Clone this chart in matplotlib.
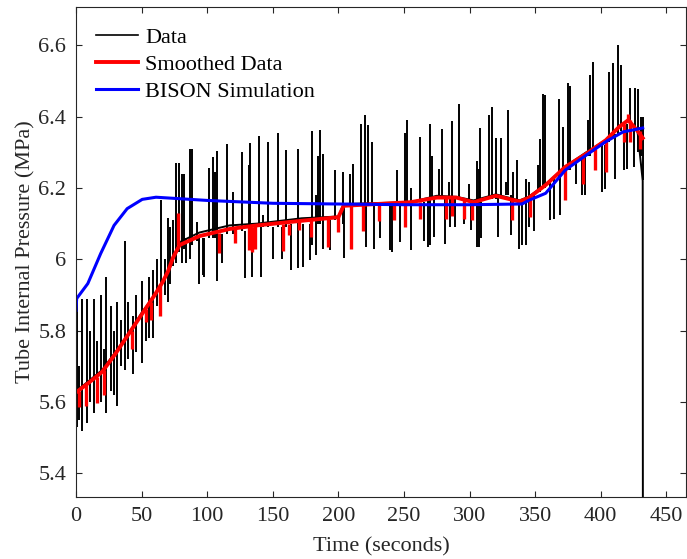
import numpy as np
import matplotlib
matplotlib.use("Agg")
import matplotlib.pyplot as plt

plt.rcParams['font.family'] = ['Liberation Serif', 'DejaVu Serif']

# measured pressure: band level through the noise
data_t = [0, 10, 20, 30, 40, 50, 60, 70, 75, 80, 94, 117, 138, 172, 200, 204, 255, 275,
          290, 303, 320, 338, 345, 358, 373, 389, 404, 414, 421, 428, 432, 432.3]
data_v = [5.63, 5.66, 5.69, 5.74, 5.79, 5.85, 5.90, 5.96, 6.01, 6.05, 6.075, 6.095, 6.10,
          6.115, 6.12, 6.155, 6.16, 6.178, 6.175, 6.165, 6.182, 6.165, 6.175, 6.21, 6.26,
          6.30, 6.335, 6.37, 6.39, 6.36, 6.22, 4.0]

# measured pressure: single-sample spikes (time, low, high)
spike_t = [0.5, 2.5, 4.8, 8.5, 11, 13.5, 16, 18.8, 21, 23, 26.8, 29, 31, 34, 37, 40, 43.6,
           46, 50, 53, 56, 59, 62, 65, 68, 70, 72, 74, 76,
           78.4, 80.9, 82.3, 84, 86.8, 88.6, 92, 93.6, 96.6, 97.8, 101.4, 104.4, 106, 107.8,
           111, 115.4, 120, 126.8, 128.9, 131.8, 133, 134.4, 139.5, 140.7, 142.8, 146.6,
           150, 154.2, 157.3, 159.8, 163.6, 169.4, 173.2, 178.3, 180.1, 182.6, 184.7, 185.9,
           188.4, 194, 197.6, 203.5, 204.5, 208.5, 209.8, 210.8, 217.6, 220, 221, 222.8,
           225.9, 227.4, 232, 239.6, 241, 244.7, 247.3, 250.6, 252.4, 255.7, 262.5, 265,
           268.3, 270.2, 271.7, 272.7, 276.8, 279.3, 281.1, 284.1, 285.4, 286.9, 288.7, 292,
           296, 299.6, 300.9, 305.3, 307.2, 308, 308.5, 314.8, 316.8, 320.4, 321.9, 323.7,
           327.5, 329.5, 331.3, 333.1, 336.4, 337.6, 339.7, 342.7, 345.7, 348.9, 351.9,
           353.7, 356.2, 357.5, 361, 364.6, 367.9, 369.2, 371, 374.8, 376.6, 381.2, 386,
           388.3, 390, 391.6, 393.9, 401, 403.6, 406.6, 409.1, 410.9, 412.9, 415.5, 418,
           420, 422.6, 425.6, 426.5, 428.2, 430.7, 432]
spike_lo = [5.53, 5.55, 5.52, 5.54, 5.60, 5.57, 5.62, 5.60, 5.63, 5.57, 5.63, 5.62, 5.59,
            5.70, 5.69, 5.72, 5.68, 5.74, 5.71, 5.77, 5.78, 5.78, 5.87, 5.87, 5.90, 5.88,
            5.93, 5.98, 5.99,
            6.02, 5.99, 6.03, 5.99, 6.00, 6.04, 6.05, 5.93, 5.955, 5.95, 6.06, 6.06, 6.06,
            5.94, 5.99, 6.07, 6.07, 6.08, 5.947, 6.08, 6.08, 5.95, 6.09, 5.95, 6.09, 6.09,
            6.00, 6.09, 6.00, 6.09, 5.969, 5.975, 5.978, 5.997, 6.04, 6.011, 6.10, 6.10,
            6.03, 6.025, 6.11, 6.10, 6.005, 6.15, 6.03, 6.15, 6.15, 6.15, 6.035, 6.15,
            6.15, 6.03, 6.06, 6.025, 6.02, 6.15, 6.049, 6.15, 6.15, 6.025, 6.16, 6.05,
            6.035, 6.04, 6.17, 6.063, 6.17, 6.17, 6.042, 6.17, 6.09, 6.17, 6.09, 6.17,
            6.10, 6.16, 6.081, 6.035, 6.035, 6.16, 6.06, 6.17, 6.17, 6.17, 6.063, 6.18,
            6.18, 6.18, 6.067, 6.17, 6.17, 6.03, 6.04, 6.04, 6.09, 6.08, 6.19,
            6.19, 6.20, 6.20, 6.109, 6.114, 6.23, 6.123, 6.24, 6.25, 6.25, 6.212, 6.18,
            6.18, 6.29, 6.29, 6.30, 6.19, 6.198, 6.33, 6.34, 6.226, 6.35, 6.36, 6.25,
            6.254, 6.38, 6.26, 6.37, 6.30, 6.29, 6.222]
spike_hi = [5.89, 5.70, 5.89, 5.89, 5.80, 5.89, 5.77, 5.90, 5.75, 5.95, 5.87, 5.80, 5.88,
            5.83, 6.05, 5.88, 5.84, 5.90, 5.94, 5.86, 5.95, 5.97, 6.00, 6.165, 6.00, 6.115,
            6.09, 6.11, 6.27,
            6.27, 6.24, 6.24, 6.06, 6.31, 6.31, 6.105, 6.06, 6.06, 6.06, 6.255, 6.287, 6.245,
            6.304, 6.07, 6.322, 6.189, 6.30, 6.08, 6.264, 6.326, 6.08, 6.345, 6.09, 6.123,
            6.328, 6.09, 6.354, 6.09, 6.306, 6.10, 6.31, 6.10, 6.10, 6.359, 6.18, 6.289,
            6.362, 6.294, 6.11, 6.25, 6.245, 6.15, 6.24, 6.15, 6.268, 6.38, 6.404, 6.15,
            6.376, 6.329, 6.15, 6.15, 6.15, 6.15, 6.25, 6.15, 6.355, 6.39, 6.20, 6.343,
            6.16, 6.17, 6.38, 6.29, 6.17, 6.254, 6.364, 6.17, 6.217, 6.17, 6.387, 6.17,
            6.435, 6.17, 6.21, 6.16, 6.276, 6.254, 6.369, 6.16, 6.404, 6.427, 6.34, 6.18,
            6.34, 6.217, 6.418, 6.18, 6.245, 6.278, 6.16, 6.16, 6.226, 6.217, 6.18, 6.264,
            6.338, 6.463, 6.46, 6.22, 6.23, 6.45, 6.24, 6.371, 6.495, 6.486, 6.27, 6.28,
            6.29, 6.39, 6.516, 6.553, 6.32, 6.32, 6.525, 6.55, 6.35, 6.60, 6.545, 6.37,
            6.38, 6.48, 6.37, 6.48, 6.476, 6.40, 6.40]

# smoothed data
smooth_t = [0, 10, 20, 30, 40, 50, 60, 66, 70, 74, 79, 94, 117, 138, 172, 200, 204, 255,
            275, 290, 303, 320, 338, 345, 358, 373, 389, 404, 414, 421, 428, 432]
smooth_v = [5.627, 5.655, 5.685, 5.735, 5.79, 5.845, 5.90, 5.936, 5.965, 6.005, 6.04, 6.065,
            6.085, 6.095, 6.108, 6.118, 6.15, 6.16, 6.173, 6.173, 6.16, 6.178, 6.162, 6.172,
            6.208, 6.259, 6.296, 6.334, 6.371, 6.39, 6.36, 6.34]
rspike_t = [2.3, 7.6, 16, 21, 42.6, 53, 57, 64, 78, 108.8, 121, 131.5, 134, 136.5, 157.6,
            162, 170, 179.5, 192, 200, 209.6, 218.6, 231.3, 242.4, 250.8, 262, 281.9, 287,
            295.6, 301.5, 332, 346.4, 372.4, 386.4, 396, 404.2, 418.1, 421, 422, 429.8]
rspike_lo = [5.585, 5.59, 5.596, 5.62, 5.75, 5.823, 5.83, 5.84, 6.04, 6.017, 6.046, 6.025,
             6.02, 6.03, 6.023, 6.067, 6.081, 6.063, 6.035, 6.077, 6.03, 6.08, 6.106, 6.11,
             6.09, 6.114, 6.114, 6.12, 6.114, 6.11, 6.11, 6.119, 6.165, 6.212, 6.25, 6.245,
             6.329, 6.39, 6.329, 6.31]
rspike_hi = [5.63, 5.65, 5.67, 5.69, 5.80, 5.86, 5.88, 5.93, 6.13, 6.075, 6.087, 6.09,
             6.09, 6.095, 6.10, 6.10, 6.108, 6.11, 6.115, 6.12, 6.15, 6.155, 6.155, 6.155,
             6.16, 6.16, 6.173, 6.173, 6.17, 6.16, 6.17, 6.175, 6.255, 6.29, 6.31, 6.334,
             6.38, 6.408, 6.39, 6.36]

# BISON simulation
bison_t = [0, 0.5, 9, 18.8, 29, 39, 50.5, 61, 100, 150, 200, 250, 300, 340, 345, 358, 373,
           389, 404, 417, 432]
bison_v = [5.857, 5.89, 5.932, 6.016, 6.095, 6.142, 6.168, 6.174, 6.165, 6.157, 6.155,
           6.153, 6.153, 6.155, 6.165, 6.185, 6.25, 6.292, 6.33, 6.357, 6.368]

xticks = [0, 50, 100, 150, 200, 250, 300, 350, 400, 450]
yticks = [5.4, 5.6, 5.8, 6.0, 6.2, 6.4, 6.6]
ytick_labels = ['5.4', '5.6', '5.8', '6', '6.2', '6.4', '6.6']

axcol = '#262626'
fig = plt.figure(figsize=(6.87, 5.59), dpi=100)
ax = fig.add_axes([76 / 687, 62 / 559, 610 / 687, 490 / 559])

h_data, = ax.plot(data_t, data_v, color='black', lw=1.4, label='Data')
ax.vlines(spike_t, spike_lo, spike_hi, color='black', lw=1.4)
h_smooth, = ax.plot(smooth_t, smooth_v, color='red', lw=2.8, label='Smoothed Data')
ax.vlines(rspike_t, rspike_lo, rspike_hi, color='red', lw=2.4)
h_bison, = ax.plot(bison_t, bison_v, color='blue', lw=2.2, label='BISON Simulation')

ax.set_xlim(0, 465)
ax.set_ylim(5.334, 6.707)
ax.set_xticks(xticks)
ax.set_yticks(yticks)
ax.set_yticklabels(ytick_labels)
ax.tick_params(direction='in', top=True, right=True, length=4, width=0.8,
               labelsize=16, colors=axcol, pad=7)
for s in ax.spines.values():
    s.set_color(axcol)
    s.set_linewidth(0.8)

ax.set_xlabel('Time (seconds)', fontsize=16, color=axcol, labelpad=8)
ax.set_ylabel('Tube Internal Pressure (MPa)', fontsize=16, color=axcol, labelpad=2)

leg = ax.legend(handles=[h_data, h_smooth, h_bison], loc='upper left', frameon=False,
                fontsize=16, handlelength=1.9, handletextpad=0.3, labelspacing=0.3,
                borderaxespad=0.5, bbox_to_anchor=(0.0, 1.0))
leg.legend_handles[0].set_linewidth(1.2)

fig.savefig('out.png', dpi=100)
